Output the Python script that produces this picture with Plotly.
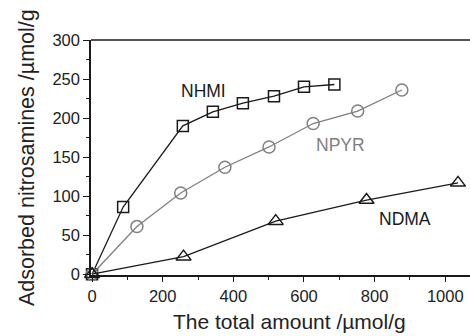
import plotly.graph_objects as go

nhmi_x = [0, 88, 257, 342, 427, 515, 600, 686]
nhmi_y = [0, 86, 190, 208, 219, 228, 240, 243]
npyr_x = [0, 127, 251, 376, 501, 626, 752, 877]
npyr_y = [0, 61, 104, 137, 163, 193, 209, 236]
ndma_x = [0, 259, 520, 777, 1036]
ndma_y = [0, 22.5, 68, 95, 117]

labels = ["NHMI", "NPYR", "NDMA"]
label_x = [316, 703, 885]
label_y = [235, 165, 71]

x_title = "The total amount /µmol/g"
y_title = "Adsorbed nitrosamines /µmol/g"

black = "#1a1a1a"
gray = "#808080"
font = "Liberation Sans, Arial, sans-serif"

fig = go.Figure()
fig.add_trace(go.Scatter(x=nhmi_x, y=nhmi_y, mode="lines+markers", name=labels[0], cliponaxis=False,
                         line=dict(color=black, width=1.3),
                         marker=dict(symbol="square-open", size=11, color=black, line=dict(width=1.5))))
fig.add_trace(go.Scatter(x=npyr_x, y=npyr_y, mode="lines+markers", name=labels[1], cliponaxis=False,
                         line=dict(color=gray, width=1.3),
                         marker=dict(symbol="circle-open", size=12, color=gray, line=dict(width=1.5))))
fig.add_trace(go.Scatter(x=ndma_x, y=ndma_y, mode="lines+markers", name=labels[2], cliponaxis=False,
                         line=dict(color=black, width=1.3),
                         marker=dict(symbol="triangle-up-open", size=13, color=black, line=dict(width=1.5))))

colors = [black, gray, black]
for t, xx, yy, c in zip(labels, label_x, label_y, colors):
    fig.add_annotation(x=xx, y=yy, text=t, showarrow=False,
                       font=dict(size=17.5, color=c, family=font))

# axis titles
fig.add_annotation(xref="paper", yref="paper", x=0.525, y=0, yshift=-46,
                   xanchor="center", yanchor="middle", text=x_title, showarrow=False,
                   font=dict(size=21, color="#222", family=font))
fig.add_annotation(xref="paper", yref="paper", x=-0.17, y=0.5,
                   xanchor="center", yanchor="middle", text=y_title, showarrow=False,
                   textangle=-90, font=dict(size=21.5, color="#222", family=font))

fig.add_shape(type="line", xref="paper", yref="paper", x0=0, x1=1, y0=1, y1=1,
              line=dict(color=black, width=1.5))

fig.update_layout(
    width=470, height=336,
    margin=dict(l=91, r=0, t=40, b=61),
    plot_bgcolor="white", paper_bgcolor="white",
    showlegend=False,
    font=dict(family=font, size=16.5, color="#222"),
)
fig.update_xaxes(range=[-3, 1070], tickvals=[0, 200, 400, 600, 800, 1000],
                 ticks="outside", ticklen=5, tickwidth=1.3, tickcolor=black,
                 minor=dict(tickvals=[100, 300, 500, 700, 900], ticks="outside", ticklen=3, tickcolor=black),
                 showline=True, linecolor=black, linewidth=1.5, showgrid=False, zeroline=False,
                 ticklabelstandoff=0, automargin=False)
fig.update_yaxes(range=[-1, 300], tickvals=[0, 50, 100, 150, 200, 250, 300],
                 ticks="outside", ticklen=6, tickwidth=1.3, tickcolor=black,
                 minor=dict(tickvals=[25, 75, 125, 175, 225, 275], ticks="outside", ticklen=3, tickcolor=black),
                 showline=True, linecolor=black, linewidth=1.5, showgrid=False, zeroline=False,
                 ticklabelstandoff=0, automargin=False)

fig.write_html("out.html", config={"displayModeBar": False},
               post_script="document.body.style.margin='0';document.body.style.overflow='hidden';")
